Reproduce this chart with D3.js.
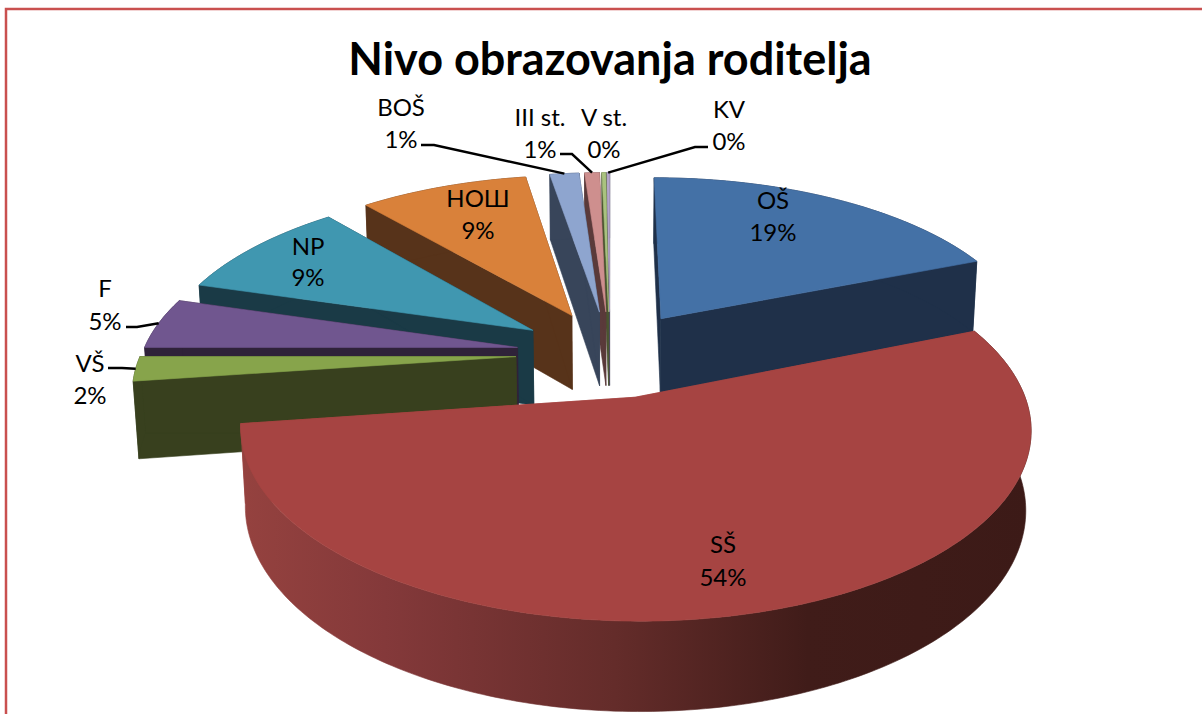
<!DOCTYPE html>
<html>
<head>
<meta charset="utf-8">
<script src="https://cdn.jsdelivr.net/npm/d3@7"></script>
<style>
    html, body { margin: 0; padding: 0; background: #ffffff; }
    svg { display: block; }
    text { font-family: Lato, "Open Sans", sans-serif; fill: #000000; }
</style>
</head>
<body>
<svg width="1202" height="714"></svg>
<script>
const title = "Nivo obrazovanja roditelja";

// slices, clockwise from the top
const categories = ["OŠ", "SŠ", "VŠ", "F", "NP", "НОШ", "BOŠ", "III st.", "V st.", "KV"];
const shares = [18.9, 53.9, 2.2, 4.6, 9.2, 8.6, 1.49, 0.76, 0.2, 0.15];

const topColors = ["#4471a6", "#a64442", "#87a44b", "#70568f", "#4097b0", "#d9813a", "#8ea5cf", "#ce8f8e", "#a9c27f", "#b3a6ca"];
const sideColors = ["#1f3049", "#a64442", "#38401e", "#2f2239", "#1a3a46", "#57331a", "#38455a", "#5a3a3a", "#4a5530", "#4d4460"];

// label centres on the page: x, first line y, second line y
const labelX = [773, 723, 90, 105, 308, 478, 401, 540, 604, 729];
const labelY1 = [199, 543, 362, 287, 245, 197, 106, 116, 116, 108];
const labelY2 = [231, 576, 394, 320, 276, 229, 138, 148, 148, 140];

// leader lines: which slice, where it leaves the text, elbow
const leaderSlices = [2, 3, 6, 7, 9];
const leaderStartX = [108, 126, 421, 560, 708];
const leaderStartY = [368, 327, 145, 154, 147];
const leaderElbowX = [122, 137, 434, 572, 695];

// 3D view of the pie
const cx = 610, cy = 353.6;
const radius = 375, explode = 94, thickness = 77;
const tilt = 0.462, persp = 0.00042, perspDown = 0.012;

const svg = d3.select("svg");

// page frame, only top and left show
svg.append("path")
    .attr("d", "M6,714V9H1202")
    .attr("fill", "none")
    .attr("stroke", "#c9504f")
    .attr("stroke-width", 2.5);

svg.append("text")
    .attr("x", 610)
    .attr("y", 75)
    .attr("text-anchor", "middle")
    .style("font-size", "45px")
    .style("font-weight", "700")
    .text(title);

// ground plane point -> screen, down=1 is the underside
function project(x, z, down) {
    const w = 1 / (1 - persp * z + perspDown * down);
    return [cx + x * w, cy + (tilt * z + thickness * down) * w];
}

const pie = d3.pie().sort(null).value(d => d);
const arcs = pie(shares).map((d, i) => {
    const mid = (d.startAngle + d.endAngle) / 2;
    return {
        i,
        start: d.startAngle,
        end: d.endAngle,
        ox: explode * Math.sin(mid),
        oz: -explode * Math.cos(mid)
    };
});

const line = d3.line();

function rimPoint(a, ang, down) {
    return project(a.ox + radius * Math.sin(ang), a.oz - radius * Math.cos(ang), down);
}

function rimPoints(a, down) {
    const n = Math.max(2, Math.ceil((a.end - a.start) * 60));
    return d3.range(n + 1).map(k => rimPoint(a, a.start + (a.end - a.start) * k / n, down));
}

// side gradient of the big slice
const wallX = d3.extent(rimPoints(arcs[1], 0), p => p[0]);
const stopPos = d3.scaleLinear().domain(wallX).range([0, 1]);
const grad = svg.append("defs").append("linearGradient")
    .attr("id", "wall")
    .attr("gradientUnits", "userSpaceOnUse")
    .attr("x1", wallX[0])
    .attr("x2", wallX[1])
    .attr("y1", 0)
    .attr("y2", 0);
[[240, "#95423f"], [385, "#84393a"], [615, "#642c2a"], [808, "#401c19"], [1033, "#3c1a17"]].forEach(s => {
    grad.append("stop").attr("offset", stopPos(s[0])).attr("stop-color", s[1]);
});

// back to front
const order = arcs.slice().sort((p, q) => p.oz - q.oz);
const groups = svg.selectAll("g.slice")
    .data(order)
    .enter()
    .append("g")
    .attr("class", "slice");

function paint(sel, color) {
    sel.attr("fill", color).attr("stroke", color).attr("stroke-width", 0.6).attr("stroke-linejoin", "round");
}

groups.each(function(a) {
    const g = d3.select(this);
    const side = a.i === 1 ? "url(#wall)" : sideColors[a.i];
    const apexTop = project(a.ox, a.oz, 0);
    const apexBottom = project(a.ox, a.oz, 1);

    // cut faces
    [a.start, a.end].forEach(ang => {
        const face = [apexTop, rimPoint(a, ang, 0), rimPoint(a, ang, 1), apexBottom];
        g.append("path").attr("d", line(face) + "Z").call(paint, sideColors[a.i]);
    });

    // outer wall
    const wall = rimPoints(a, 0).concat(rimPoints(a, 1).reverse());
    g.append("path").attr("d", line(wall) + "Z").call(paint, side);

    // top
    const top = [apexTop].concat(rimPoints(a, 0));
    g.append("path").attr("d", line(top) + "Z").call(paint, topColors[a.i]);
});

// leader lines
leaderSlices.forEach((s, i) => {
    const a = arcs[s];
    const end = rimPoint(a, (a.start + a.end) / 2, 0);
    svg.append("path")
        .attr("d", line([[leaderStartX[i], leaderStartY[i]], [leaderElbowX[i], leaderStartY[i]], end]))
        .attr("fill", "none")
        .attr("stroke", "#000000")
        .attr("stroke-width", 2.4);
});

// labels
const pct = d3.format(".0%");
categories.forEach((c, i) => {
    const row = [[c, labelY1[i]], [pct(shares[i] / 100), labelY2[i]]];
    row.forEach(r => {
        svg.append("text")
            .attr("x", labelX[i])
            .attr("y", r[1])
            .attr("text-anchor", "middle")
            .attr("dominant-baseline", "central")
            .style("font-size", "24px")
            .text(r[0]);
    });
});
</script>
</body>
</html>
